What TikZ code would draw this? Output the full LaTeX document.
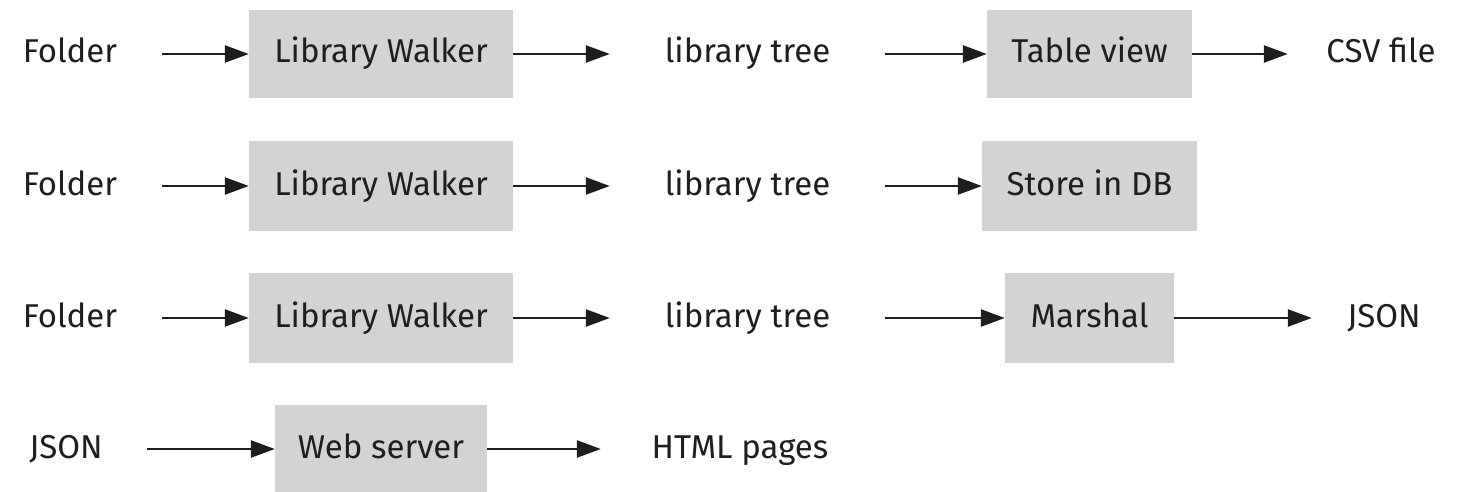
\documentclass[tikz,border=0pt]{standalone}
\usepackage{fontspec}
\setmainfont{Fira Sans}
\usetikzlibrary{arrows.meta}
\definecolor{boxgray}{HTML}{D3D3D3}
\definecolor{ink}{HTML}{1E1E1E}
\tikzset{
  every node/.style={font=\fontsize{33}{40}\selectfont, text=ink, inner sep=0pt,
                     text height=24pt, text depth=6pt},
  stage/.style={fill=boxgray, minimum height=88pt},
  data/.style={minimum height=40pt},
  arr/.style={draw=ink, line width=2.6pt, -{Triangle[length=24pt,width=17pt]}},
}
\begin{document}
\begin{tikzpicture}[x=1pt,y=-1pt]
\useasboundingbox (0,0) rectangle (1473,492);

% row 1: folder to CSV export
\node[data, minimum width=184pt] (f1) at (70,54) {Folder};
\node[stage, minimum width=264pt] (lw1) at (381,54) {Library Walker};
\node[data, minimum width=275pt] (t1) at (747.5,54) {library tree};
\node[stage, minimum width=205pt] (tv) at (1089.5,54) {Table view};
\node[data, minimum width=186pt] (csv) at (1381,54) {CSV file};
\draw[arr] (f1) -- (lw1);
\draw[arr] (lw1) -- (t1);
\draw[arr] (t1) -- (tv);
\draw[arr] (tv) -- (csv);

% row 2: folder to database
\node[data, minimum width=184pt] (f2) at (70,186) {Folder};
\node[stage, minimum width=264pt, minimum height=90pt] (lw2) at (381,186) {Library Walker};
\node[data, minimum width=275pt] (t2) at (747.5,186) {library tree};
\node[stage, minimum width=215pt, minimum height=90pt] (db) at (1089.5,186) {Store in DB};
\draw[arr] (f2) -- (lw2);
\draw[arr] (lw2) -- (t2);
\draw[arr] (t2) -- (db);

% row 3: folder to JSON
\node[data, minimum width=184pt] (f3) at (70,318) {Folder};
\node[stage, minimum width=264pt, minimum height=90pt] (lw3) at (381,318) {Library Walker};
\node[data, minimum width=275pt] (t3) at (747.5,318) {library tree};
\node[stage, minimum width=169pt, minimum height=90pt] (ms) at (1089.5,318) {Marshal};
\node[data, minimum width=144pt] (j3) at (1384,318) {JSON};
\draw[arr] (f3) -- (lw3);
\draw[arr] (lw3) -- (t3);
\draw[arr] (t3) -- (ms);
\draw[arr] (ms) -- (j3);

% row 4: JSON served as HTML
\node[data, minimum width=162pt] (j4) at (66,449) {JSON};
\node[stage, minimum width=212pt] (ws) at (381,449) {Web server};
\node[data, minimum width=278pt] (h4) at (740,449) {HTML pages};
\draw[arr] (j4) -- (ws);
\draw[arr] (ws) -- (h4);
\end{tikzpicture}
\end{document}
